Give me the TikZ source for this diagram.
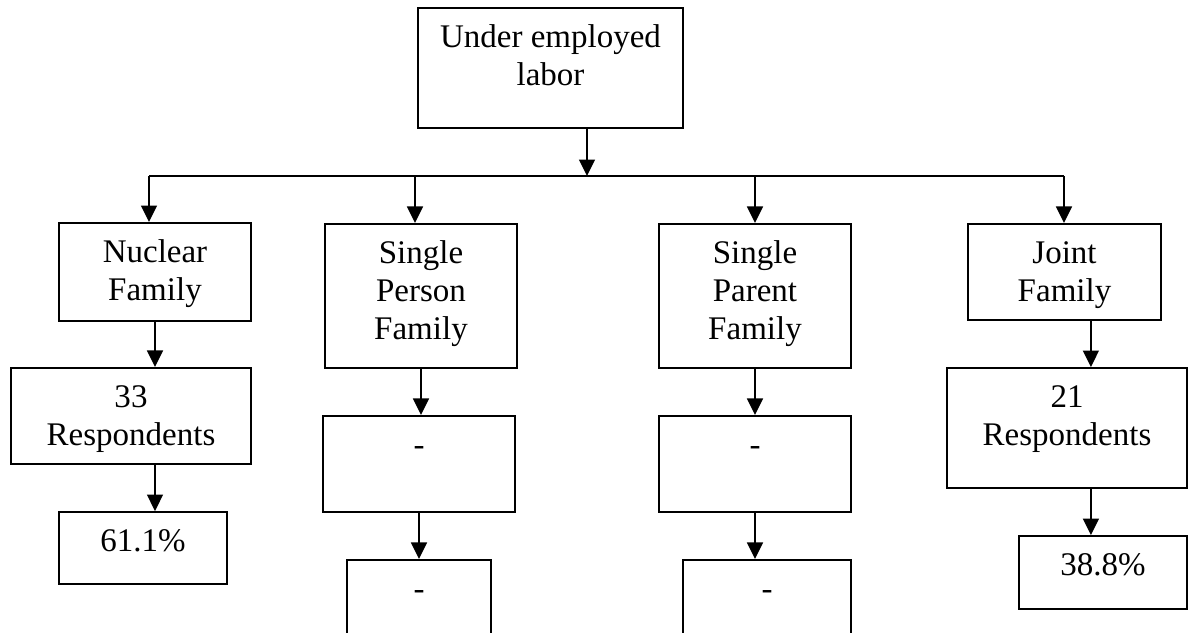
\documentclass[tikz,border=0pt]{standalone}
\usepackage{fontspec}
\setmainfont{Liberation Serif}
\usetikzlibrary{arrows.meta}

\begin{document}
\begin{tikzpicture}[x=0.3636pt, y=-0.3636pt]

              % Definitions
              \tikzstyle{Box} = [rectangle, draw=black, line width=0.75pt, align=center, inner xsep=2pt, inner ysep=0pt, text height=14.5pt, font=\fontsize{12}{13.8}\selectfont]
              \tikzstyle{TwoLines} = [text height=28.3pt]
              \tikzstyle{ThreeLines} = [text height=42.1pt]
              \tikzstyle{arrow} = [line width=0.6pt, -{Triangle[length=6pt,width=5.8pt]}]

              \useasboundingbox (0,0) rectangle (1189,632);

              \node (UL) [Box, TwoLines, minimum width=96.4pt, text depth=15.3pt] at (550.5,68) {Under employed\\labor};

              \node (NF) [Box, TwoLines, minimum width=69.8pt, text depth=7.3pt] at (155,272) {Nuclear\\Family};
              \node (SPF) [Box, ThreeLines, minimum width=69.8pt, text depth=10.3pt] at (421,296) {Single\\Person\\Family};
              \node (SPaF) [Box, ThreeLines, minimum width=69.8pt, text depth=10.3pt] at (755,296) {Single\\Parent\\Family};
              \node (JF) [Box, TwoLines, minimum width=70.2pt, text depth=6.6pt] at (1064.5,272) {Joint\\Family};

              \node (NFR) [Box, TwoLines, minimum width=87.3pt, text depth=6.6pt] at (131,416) {33\\Respondents};
              \node (SPFR) [Box, minimum width=69.8pt, text depth=20.4pt] at (419,464) {-};
              \node (SPaFR) [Box, minimum width=69.8pt, text depth=20.4pt] at (755,464) {-};
              \node (JFR) [Box, TwoLines, minimum width=87.3pt, text depth=15.3pt] at (1067,428) {21\\Respondents};

              \node (NFP) [Box, minimum width=61.1pt, text depth=11.6pt] at (143,548) {61.1\%};
              \node (SPFP) [Box, minimum width=52.4pt, text depth=12.4pt] at (419,597) {-};
              \node (SPaFP) [Box, minimum width=61.1pt, text depth=12.4pt] at (767,597) {-};
              \node (JFP) [Box, minimum width=61.1pt, text depth=12.0pt] at (1103,572.5) {38.8\%};

              \coordinate (bus) at (587,176);
              \coordinate (b1) at (149,176);
              \coordinate (b2) at (415,176);
              \coordinate (b3) at (755,176);
              \coordinate (b4) at (1064,176);

              \draw [arrow] (UL.south -| bus) -- (bus);
              \draw [line width=0.6pt] (b1) -- (b4);

              \draw [arrow] (b1) -- (b1 |- NF.north);
              \draw [arrow] (b2) -- (b2 |- SPF.north);
              \draw [arrow] (b3) -- (b3 |- SPaF.north);
              \draw [arrow] (b4) -- (b4 |- JF.north);

              \draw [arrow] (NF) -- (NF |- NFR.north);
              \draw [arrow] (NF |- NFR.south) -- (NF |- NFP.north);

              \draw [arrow] (SPF) -- (SPF.south |- SPFR.north);
              \draw [arrow] (SPFR) -- (SPFP);

              \draw [arrow] (SPaF) -- (SPaFR);
              \draw [arrow] (SPaFR) -- (SPaFR |- SPaFP.north);

              \draw [arrow] ([xshift=9.6pt]JF.south) -- ([xshift=9.6pt]JF.south |- JFR.north);
              \draw [arrow] ([xshift=8.7pt]JFR.south) -- ([xshift=8.7pt]JFR.south |- JFP.north);

            \end{tikzpicture}
\end{document}
